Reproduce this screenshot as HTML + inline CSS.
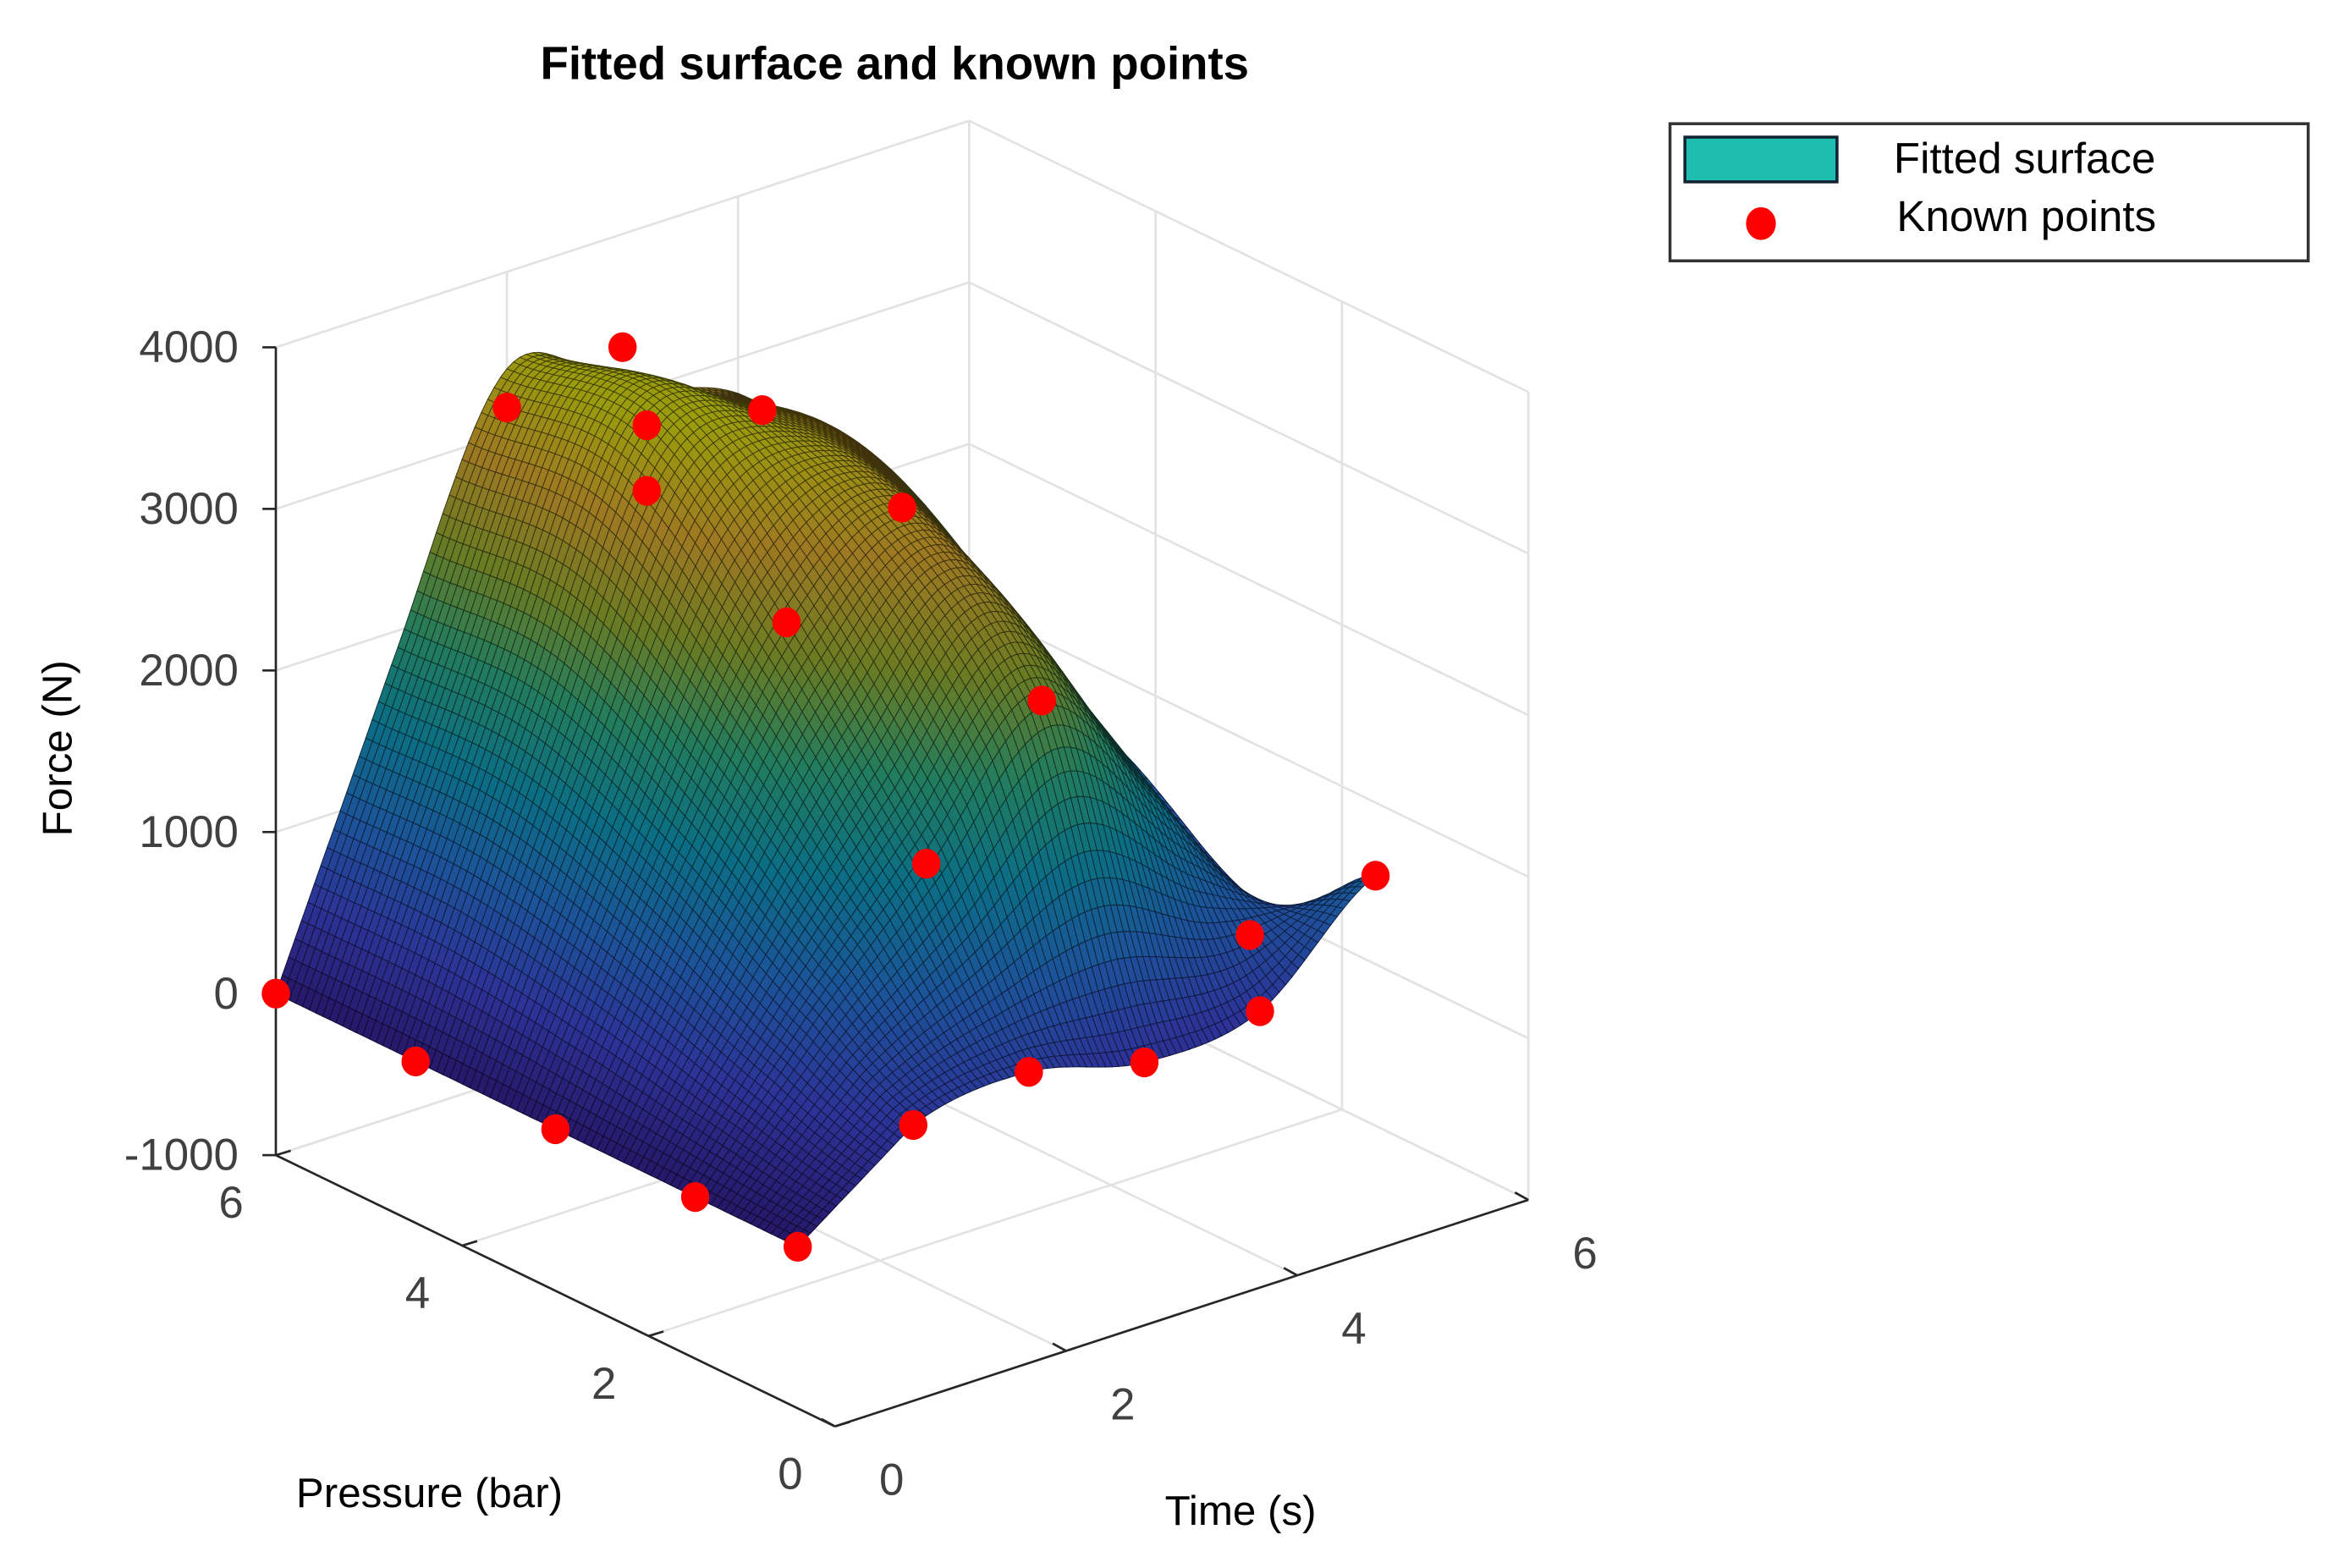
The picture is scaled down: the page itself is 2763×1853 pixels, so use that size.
<!DOCTYPE html>
<html><head><meta charset="utf-8"><style>
html,body{margin:0;padding:0;background:#fff;}
svg{display:block;}
text{font-family:"Liberation Sans",sans-serif;}
</style></head><body>
<svg id="chart" width="2763" height="1853" viewBox="0 0 1568 1052" preserveAspectRatio="none" xmlns="http://www.w3.org/2000/svg">
<rect width="1568" height="1052" fill="#fff"/>
<text x="600" y="53" font-size="31" font-weight="bold" text-anchor="middle" fill="#000">Fitted surface and known points</text>
<g id="grid"></g>
<g id="axes"></g>
<g id="surf"></g>
<g id="pts"></g>
<text transform="translate(48,502) rotate(-90)" font-size="28" text-anchor="middle" fill="#000">Force (N)</text>
<text x="288" y="1011" font-size="28" text-anchor="middle" fill="#000">Pressure (bar)</text>
<text x="832" y="1023" font-size="28" text-anchor="middle" fill="#000">Time (s)</text>
<g>
<rect x="1120" y="83" width="428" height="92" fill="#fff" stroke="#333" stroke-width="2"/>
<rect x="1130" y="92" width="102" height="30" fill="#1fbcb0" stroke="#123" stroke-width="2"/>
<text x="1270" y="116" font-size="29" fill="#000">Fitted surface</text>
<ellipse cx="1181" cy="150" rx="10" ry="11" fill="#f00"/>
<text x="1272" y="155" font-size="29" fill="#000">Known points</text>
</g>
</svg>
<script>
// ---- surface data ----
const timeGrid = [0, 1, 2, 3, 4, 5];
const pressureGrid = [0.4, 1.5, 3, 4.5, 6];
const forceP04 = [0, 520, 615, 440, 523, 1128];
const forceP15 = [0, 850, 1596, 2372, 1520, 600];
const forceP30 = [0, 1400, 2670, 3147, 2200, 1100];
const forceP45 = [0, 1800, 3470, 3330, 2800, 1600];
const forceP60 = [0, 1800, 3400, 3030, 2780, 2055];
const forceRows = [forceP04, forceP15, forceP30, forceP45, forceP60];
// ---- known points ----
const pointTime = [0, 0, 0, 0, 0, 1, 2, 3, 4, 5, 4.8, 2, 3, 2, 3, 2, 2, 3, 3, 2];
const pointPressure = [6, 4.5, 3, 1.5, 0.4, 0.4, 0.4, 0.4, 0.4, 0.4, 1.5, 1.5, 1.5, 3, 3, 4.5, 4.5, 4.5, 6, 6];
const pointForce = [0, 0, 0, 0, 0, 520, 615, 440, 523, 1128, 500, 1596, 2372, 2670, 3147, 3064, 3470, 3330, 3300, 3160];
// ---- ticks ----
const zTicks = [-1000, 0, 1000, 2000, 3000, 4000];
const pTicks = [0, 2, 4, 6];
const tTicks = [0, 2, 4, 6];

const NS = "http://www.w3.org/2000/svg";
const O = [560, 957];
function px(t, p, f) { return O[0] + 77.5 * t - 62.5 * p; }
function py(t, p, f) { return O[1] - 25.33 * t - 30.33 * p - 0.1084 * (f + 1000); }
function mk(tag, attrs, parent) {
  const e = document.createElementNS(NS, tag);
  for (const k in attrs) e.setAttribute(k, attrs[k]);
  parent.appendChild(e); return e;
}
function line(g, a, b, col, w, name) {
  const e = mk('line', {x1: px(...a), y1: py(...a), x2: px(...b), y2: py(...b), stroke: col, 'stroke-width': w}, g);
  
  
}
const grid = document.getElementById('grid');
const gc = '#e2e2e2';
for (const z of zTicks) {
  line(grid, [0, 6, z], [6, 6, z], gc, 1.5, 'grid-line-back-wall');
  line(grid, [6, 0, z], [6, 6, z], gc, 1.5, 'grid-line-side-wall');
}
for (const t of tTicks) {
  line(grid, [t, 6, -1000], [t, 6, 4000], gc, 1.5, 'grid-line-time-vertical');
  line(grid, [t, 0, -1000], [t, 6, -1000], gc, 1.5, 'grid-line-time-floor');
}
for (const p of pTicks) {
  line(grid, [6, p, -1000], [6, p, 4000], gc, 1.5, 'grid-line-pressure-vertical');
  line(grid, [0, p, -1000], [6, p, -1000], gc, 1.5, 'grid-line-pressure-floor');
}
const ax = document.getElementById('axes');
const ac = '#262626';
line(ax, [0, 6, -1000], [0, 6, 4000], ac, 1.5, 'z-axis-line');
line(ax, [0, 0, -1000], [0, 6, -1000], ac, 1.5, 'pressure-axis-line');
line(ax, [0, 0, -1000], [6, 0, -1000], ac, 1.5, 'time-axis-line');
for (const z of zTicks) {
  const x = px(0, 6, z), y = py(0, 6, z);
  const tk = mk('line', {x1: x, y1: y, x2: x - 9, y2: y, stroke: ac, 'stroke-width': 1.5}, ax);
  
  
  const tx = mk('text', {x: x - 25, y: y + 10, 'font-size': 30, 'text-anchor': 'end', fill: '#404040'}, ax);
  tx.textContent = z;
  
  
}
for (const p of pTicks) {
  const x = px(0, p, -1000), y = py(0, p, -1000);
  const tk = mk('line', {x1: x, y1: y, x2: x + 10, y2: y - 3, stroke: ac, 'stroke-width': 1.5}, ax);
  
  
  const tx = mk('text', {x: x - 30, y: y + 42, 'font-size': 30, 'text-anchor': 'middle', fill: '#404040'}, ax);
  tx.textContent = p;
  
  
}
for (const t of tTicks) {
  const x = px(t, 0, -1000), y = py(t, 0, -1000);
  const tk = mk('line', {x1: x, y1: y, x2: x - 9, y2: y - 5, stroke: ac, 'stroke-width': 1.5}, ax);
  
  
  const tx = mk('text', {x: x + 38, y: y + 46, 'font-size': 30, 'text-anchor': 'middle', fill: '#404040'}, ax);
  tx.textContent = t;
  
  
}
function cr(v, i, u) {
  const n = v.length;
  const g = k => v[Math.max(0, Math.min(n - 1, k))];
  const p0 = g(i - 1), p1 = g(i), p2 = g(i + 1), p3 = g(i + 2);
  return 0.5 * ((2 * p1) + (-p0 + p2) * u + (2 * p0 - 5 * p1 + 4 * p2 - p3) * u * u + (-p0 + 3 * p1 - 3 * p2 + p3) * u * u * u);
}
function idx(grid, v) {
  for (let i = 0; i < grid.length - 1; i++) {
    if (v <= grid[i + 1] || i === grid.length - 2) return [i, (v - grid[i]) / (grid[i + 1] - grid[i])];
  }
}
function interpT(r, ti, tu) {
  if (ti === 0) return r[0] + (r[1] - r[0]) * tu;
  return cr(r, ti, tu);
}
function F(t, p) {
  const [ti, tu] = idx(timeGrid, t);
  const col = forceRows.map(r => interpT(r, ti, tu));
  const [pi, pu] = idx(pressureGrid, p);
  return cr(col, pi, pu);
}
const parula = [[62,38,168],[72,82,244],[45,135,247],[18,177,214],[55,200,151],[171,199,57],[254,195,56],[249,251,21]];
function cmap(v) {
  const lo = 0, hi = 3500;
  let s = Math.max(0, Math.min(1, (v - lo) / (hi - lo))) * (parula.length - 1);
  const i = Math.min(parula.length - 2, Math.floor(s)), u = s - i;
  return parula[i].map((c, k) => c + (parula[i + 1][k] - c) * u);
}
const surf = document.getElementById('surf');
const NT = 90, NP = 78;
const T0 = timeGrid[0], T1 = timeGrid[timeGrid.length - 1];
const P0 = pressureGrid[0], P1 = pressureGrid[pressureGrid.length - 1];
const Z = [];
for (let i = 0; i <= NT; i++) { Z.push([]); for (let j = 0; j <= NP; j++) {
  Z[i].push(F(T0 + (T1 - T0) * i / NT, P0 + (P1 - P0) * j / NP)); } }
const quads = [];
for (let i = 0; i < NT; i++) for (let j = 0; j < NP; j++) {
  const ta = T0 + (T1 - T0) * i / NT, tb = T0 + (T1 - T0) * (i + 1) / NT;
  const pa = P0 + (P1 - P0) * j / NP, pb = P0 + (P1 - P0) * (j + 1) / NP;
  quads.push({i, j, ta, tb, pa, pb, d: 62.5 * (ta + tb) + 77.5 * (pa + pb)});
}
quads.sort((a, b) => b.d - a.d);
for (const q of quads) {
  const {i, j, ta, tb, pa, pb} = q;
  const c = [[ta, pa, Z[i][j]], [tb, pa, Z[i + 1][j]], [tb, pb, Z[i + 1][j + 1]], [ta, pb, Z[i][j + 1]]];
  const avg = (Z[i][j] + Z[i + 1][j] + Z[i + 1][j + 1] + Z[i][j + 1]) / 4;
  const col = cmap(avg);
  const fill = `rgb(${col.map(v => Math.round(v * 0.62)).join(',')})`;
  const strk = `rgb(${col.map(v => Math.round(v * 0.25)).join(',')})`;
  const pts = c.map(a => px(...a).toFixed(1) + ',' + py(...a).toFixed(1)).join(' ');
  const poly = mk('polygon', {points: pts, fill: fill, stroke: strk, 'stroke-width': 0.55}, surf);
  
  
}
const ptsG = document.getElementById('pts');
for (let k = 0; k < pointTime.length; k++) {
  const t = pointTime[k], p = pointPressure[k], f = pointForce[k];
  const dot = mk('ellipse', {cx: px(t, p, f), cy: py(t, p, f), rx: 9.5, ry: 10, fill: '#ff0000'}, ptsG);
  
  
}
</script>
</body></html>
